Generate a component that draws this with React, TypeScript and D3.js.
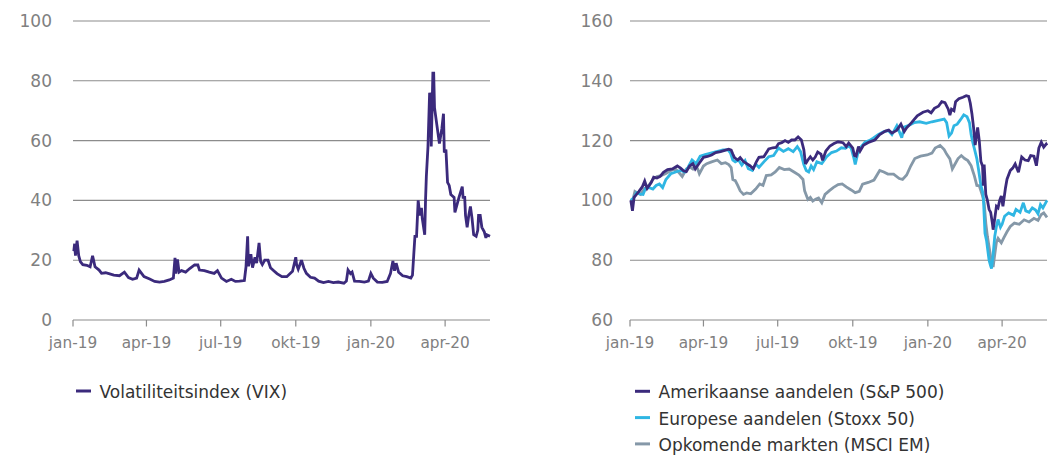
import React from "react";
import * as d3 from "d3";

// VIX (volatility index), daily-ish closes
const vixDates = [
  "2019-01-02","2019-01-03","2019-01-04","2019-01-06","2019-01-08","2019-01-10","2019-01-13","2019-01-18","2019-01-22","2019-01-25",
  "2019-01-28","2019-02-02","2019-02-05","2019-02-10","2019-02-15","2019-02-20","2019-02-27","2019-03-05","2019-03-10","2019-03-15",
  "2019-03-20","2019-03-23","2019-03-29","2019-04-05","2019-04-11","2019-04-17","2019-04-23","2019-04-29","2019-05-04","2019-05-06",
  "2019-05-07","2019-05-09","2019-05-11","2019-05-14","2019-05-19","2019-05-24","2019-05-30","2019-06-03","2019-06-05","2019-06-11",
  "2019-06-17","2019-06-23","2019-06-27","2019-07-02","2019-07-08","2019-07-14","2019-07-19","2019-07-24","2019-07-30","2019-08-01",
  "2019-08-03","2019-08-04","2019-08-07","2019-08-09","2019-08-12","2019-08-14","2019-08-17","2019-08-19","2019-08-21","2019-08-24",
  "2019-08-28","2019-08-31","2019-09-04","2019-09-08","2019-09-14","2019-09-20","2019-09-27","2019-10-01","2019-10-02","2019-10-04",
  "2019-10-08","2019-10-11","2019-10-14","2019-10-19","2019-10-24","2019-10-29","2019-11-04","2019-11-10","2019-11-16","2019-11-22",
  "2019-11-29","2019-12-02","2019-12-04","2019-12-07","2019-12-09","2019-12-12","2019-12-18","2019-12-24","2019-12-29","2020-01-01",
  "2020-01-04","2020-01-09","2020-01-15","2020-01-21","2020-01-25","2020-01-28","2020-01-30","2020-02-01","2020-02-04","2020-02-09",
  "2020-02-14","2020-02-19","2020-02-21","2020-02-24","2020-02-26","2020-02-28","2020-03-01","2020-03-03","2020-03-04","2020-03-07",
  "2020-03-08","2020-03-09","2020-03-11","2020-03-13","2020-03-14","2020-03-15","2020-03-17","2020-03-18","2020-03-19","2020-03-22",
  "2020-03-25","2020-03-28","2020-03-30","2020-03-31","2020-04-02","2020-04-04","2020-04-06","2020-04-08","2020-04-10","2020-04-12",
  "2020-04-13","2020-04-16","2020-04-18","2020-04-22","2020-04-23","2020-04-25","2020-04-26","2020-04-28","2020-04-30","2020-05-02",
  "2020-05-04","2020-05-06","2020-05-09","2020-05-11","2020-05-12","2020-05-14","2020-05-16","2020-05-19","2020-05-21","2020-05-22",
  "2020-05-26",
];
const vixValues = [
  23, 25.5, 21.5, 26.5, 21.5, 19.5, 18.5, 18.3, 17.8, 21.5,
  17.8, 16.7, 15.6, 15.8, 15.4, 15, 14.8, 16, 14.2, 13.6,
  14, 16.7, 14.5, 13.7, 12.9, 12.7, 12.9, 13.4, 14, 20.8,
  15.5, 20.3, 16, 16.5, 16, 17.2, 18.4, 18.4, 16.7, 16.5,
  16, 15.6, 16.5, 14, 12.9, 13.6, 12.9, 13, 13.2, 17.8,
  28, 18, 22, 17.5, 21, 19, 25.8, 19.5, 18.5, 20,
  20, 17.5, 16.5, 15.5, 14.5, 14.5, 16.3, 21, 18.5, 17,
  20, 17.3, 15.6, 14.3, 14, 13, 12.5, 12.9, 12.5, 12.7,
  12.3, 13, 16.7, 15.5, 16, 13, 12.9, 12.7, 13, 15.6,
  14, 12.7, 12.6, 12.9, 15.5, 19.7, 16.5, 19, 16, 14.8,
  14.5, 14, 15, 28, 28, 40, 35, 37.5, 34, 28.5,
  40, 48, 58, 76, 75, 58, 82.6, 82.6, 71, 65,
  59, 64, 69, 56, 57, 46, 45, 42, 41.5, 41,
  36, 39, 41, 44.6, 41, 41, 35, 31, 35, 38,
  34, 28.5, 28, 30, 35, 35, 31, 29.5, 27.5, 28.5,
  28,
];

// S&P 500, indexed (2 Jan 2019 = 100)
const spDates = [
  "2019-01-02","2019-01-04","2019-01-06","2019-01-09","2019-01-12","2019-01-16","2019-01-19","2019-01-22","2019-01-27","2019-01-30",
  "2019-02-03","2019-02-07","2019-02-11","2019-02-16","2019-02-22","2019-02-28","2019-03-04","2019-03-08","2019-03-11","2019-03-15",
  "2019-03-19","2019-03-22","2019-03-27","2019-04-01","2019-04-06","2019-04-11","2019-04-16","2019-04-22","2019-04-28","2019-05-02",
  "2019-05-05","2019-05-07","2019-05-09","2019-05-13","2019-05-16","2019-05-20","2019-05-24","2019-05-28","2019-06-01","2019-06-05",
  "2019-06-08","2019-06-14","2019-06-20","2019-06-25","2019-06-29","2019-07-02","2019-07-06","2019-07-10","2019-07-14","2019-07-18",
  "2019-07-22","2019-07-26","2019-07-30","2019-08-02","2019-08-04","2019-08-07","2019-08-10","2019-08-13","2019-08-16","2019-08-19",
  "2019-08-23","2019-08-25","2019-08-29","2019-09-03","2019-09-08","2019-09-13","2019-09-19","2019-09-23","2019-09-26","2019-10-01",
  "2019-10-03","2019-10-05","2019-10-08","2019-10-10","2019-10-14","2019-10-21","2019-10-28","2019-11-03","2019-11-10","2019-11-14",
  "2019-11-18","2019-11-24","2019-11-29","2019-12-03","2019-12-06","2019-12-12","2019-12-19","2019-12-26","2020-01-01","2020-01-05",
  "2020-01-09","2020-01-14","2020-01-18","2020-01-22","2020-01-26","2020-01-28","2020-01-30","2020-02-02","2020-02-04","2020-02-08",
  "2020-02-13","2020-02-17","2020-02-20","2020-02-22","2020-02-24","2020-02-26","2020-02-28","2020-03-02","2020-03-04","2020-03-06",
  "2020-03-08","2020-03-09","2020-03-10","2020-03-12","2020-03-14","2020-03-16","2020-03-18","2020-03-20","2020-03-21","2020-03-23",
  "2020-03-25","2020-03-27","2020-03-29","2020-03-31","2020-04-02","2020-04-05","2020-04-07","2020-04-11","2020-04-14","2020-04-17",
  "2020-04-21","2020-04-25","2020-04-29","2020-05-03","2020-05-06","2020-05-10","2020-05-13","2020-05-16","2020-05-19","2020-05-22",
  "2020-05-25","2020-05-26",
];
const spValues = [
  100, 96.5, 101, 102, 103, 104.5, 106.5, 104, 106, 107.8,
  107.5, 108, 109.4, 110.3, 110.5, 111.5, 110.8, 109.8, 109.6, 111.5,
  112.3, 110.5, 112.5, 114.4, 114.7, 115.2, 116, 116.3, 116.8, 117.1,
  116.8, 115.5, 114.3, 113.5, 114.3, 113, 112.3, 111.6, 110.6, 113,
  114.4, 114.6, 117.2, 117.6, 117.7, 119, 119.3, 120, 119.4, 120.2,
  120.2, 121.2, 120.2, 117, 112.2, 113.5, 114.6, 113.5, 114.5, 116.2,
  115.5, 113.4, 116.5, 118.2, 119, 119.6, 119.3, 118, 119.2, 117.5,
  115, 114.8, 118, 116.5, 118.4, 119.5, 120.2, 122, 123.2, 123.5,
  122.5, 123.5, 125.5, 123, 124.3, 126, 128.3, 129.5, 130, 129.3,
  130.8, 131.5, 133, 132.7, 130.5, 128.5, 130.5, 130, 133, 134,
  134.5, 135, 134.8, 132.5, 129, 124.4, 118.5, 124.4, 120, 113,
  111.5, 104.9, 112, 102, 100, 97, 96, 92.5, 90.2, 94,
  98, 97.5, 100, 101.5, 98, 104, 107.1, 110, 110.8, 112.2,
  109.4, 114.5, 113.5, 113.3, 115, 114.8, 111.6, 117.5, 119.5, 117.8,
  118.8, 118.4,
];

// Stoxx 50, indexed (2 Jan 2019 = 100)
const stoxxDates = [
  "2019-01-02","2019-01-06","2019-01-09","2019-01-13","2019-01-17","2019-01-20","2019-01-24","2019-01-29","2019-02-02","2019-02-06",
  "2019-02-10","2019-02-14","2019-02-20","2019-02-26","2019-03-04","2019-03-09","2019-03-13","2019-03-18","2019-03-23","2019-03-28",
  "2019-04-03","2019-04-10","2019-04-17","2019-04-25","2019-05-01","2019-05-04","2019-05-07","2019-05-10","2019-05-14","2019-05-18",
  "2019-05-22","2019-05-26","2019-05-31","2019-06-04","2019-06-08","2019-06-14","2019-06-20","2019-06-26","2019-07-02","2019-07-08",
  "2019-07-14","2019-07-20","2019-07-25","2019-07-29","2019-08-02","2019-08-05","2019-08-08","2019-08-11","2019-08-14","2019-08-18",
  "2019-08-24","2019-08-30","2019-09-05","2019-09-11","2019-09-17","2019-09-22","2019-09-26","2019-09-29","2019-10-02","2019-10-04",
  "2019-10-07","2019-10-10","2019-10-16","2019-10-21","2019-10-26","2019-11-01","2019-11-08","2019-11-14","2019-11-18","2019-11-24",
  "2019-11-30","2019-12-03","2019-12-08","2019-12-15","2019-12-22","2019-12-30","2020-01-06","2020-01-14","2020-01-21","2020-01-24",
  "2020-01-27","2020-01-30","2020-02-02","2020-02-06","2020-02-10","2020-02-14","2020-02-18","2020-02-21","2020-02-23","2020-02-25",
  "2020-02-27","2020-03-01","2020-03-03","2020-03-06","2020-03-08","2020-03-09","2020-03-11","2020-03-13","2020-03-16","2020-03-18",
  "2020-03-19","2020-03-21","2020-03-23","2020-03-25","2020-03-27","2020-03-30","2020-04-01","2020-04-04","2020-04-09","2020-04-15",
  "2020-04-18","2020-04-23","2020-04-27","2020-04-30","2020-05-04","2020-05-08","2020-05-12","2020-05-15","2020-05-18","2020-05-21",
  "2020-05-26",
];
const stoxxValues = [
  100, 101, 102.6, 102.2, 102, 104, 104.3, 103.8, 105, 105.5,
  104.3, 107, 108.9, 109.5, 110, 109.5, 111, 113.5, 112.3, 114.8,
  115.3, 115.8, 116.3, 116.9, 116.9, 115.9, 113.5, 112.9, 113.5, 111.8,
  113.3, 110.6, 110, 112.2, 111, 112.9, 114.6, 115, 117.5, 116.4,
  117.3, 116.3, 118, 116.3, 112, 110, 109.5, 111.5, 110.3, 112.9,
  112.3, 114.6, 116, 116.5, 117.6, 117.4, 118.2, 117.5, 114.5, 112,
  115.5, 117.5, 119.5, 120, 120.8, 122, 123, 123.3, 122, 125,
  121, 124.5, 125, 126, 126.3, 125.8, 126.3, 126.8, 127.2, 126,
  121.5, 122.5, 125, 125.5, 127, 128.6, 128, 126, 122, 119.5,
  117.3, 114, 110.5, 105, 103, 101, 89, 86.4, 80, 78,
  77.2, 82, 88, 91.3, 93.6, 91, 92, 94.7, 95.8, 95,
  97, 96, 99.2, 96.5, 96, 97.5, 96.8, 95.5, 98.6, 97.5,
  100,
];

// MSCI Emerging Markets, indexed (2 Jan 2019 = 100)
const emDates = [
  "2019-01-02","2019-01-04","2019-01-07","2019-01-10","2019-01-14","2019-01-19","2019-01-24","2019-01-29","2019-02-03","2019-02-08",
  "2019-02-14","2019-02-20","2019-02-26","2019-03-03","2019-03-06","2019-03-11","2019-03-15","2019-03-19","2019-03-22","2019-03-25",
  "2019-03-27","2019-04-01","2019-04-05","2019-04-11","2019-04-18","2019-04-23","2019-04-28","2019-05-02","2019-05-05","2019-05-07",
  "2019-05-10","2019-05-13","2019-05-16","2019-05-20","2019-05-24","2019-05-29","2019-06-04","2019-06-09","2019-06-13","2019-06-17",
  "2019-06-23","2019-06-28","2019-07-03","2019-07-09","2019-07-15","2019-07-21","2019-07-27","2019-08-01","2019-08-03","2019-08-07",
  "2019-08-10","2019-08-13","2019-08-17","2019-08-20","2019-08-24","2019-08-28","2019-09-02","2019-09-07","2019-09-13","2019-09-18",
  "2019-09-23","2019-09-29","2019-10-04","2019-10-09","2019-10-13","2019-10-20","2019-10-27","2019-11-03","2019-11-08","2019-11-13",
  "2019-11-20","2019-11-27","2019-12-01","2019-12-06","2019-12-11","2019-12-16","2019-12-23","2019-12-31","2020-01-06","2020-01-10",
  "2020-01-16","2020-01-21","2020-01-24","2020-01-28","2020-01-31","2020-02-03","2020-02-07","2020-02-11","2020-02-15","2020-02-19",
  "2020-02-23","2020-02-27","2020-03-01","2020-03-04","2020-03-08","2020-03-10","2020-03-12","2020-03-14","2020-03-16","2020-03-18",
  "2020-03-20","2020-03-21","2020-03-23","2020-03-25","2020-03-27","2020-03-31","2020-04-03","2020-04-07","2020-04-11","2020-04-16",
  "2020-04-22","2020-04-28","2020-05-04","2020-05-10","2020-05-15","2020-05-19","2020-05-22","2020-05-26",
];
const emValues = [
  100, 99.5, 103, 102.5, 102, 104, 105, 107, 108, 108.3,
  109, 110, 110.5, 109, 108, 110.5, 111.2, 110.5, 111.8, 110.5,
  108.9, 111.5, 112.3, 112.9, 113.5, 112.3, 112.6, 112, 111, 107,
  106.6, 105, 103.2, 102, 102.5, 102.2, 103.8, 105.5, 105, 108.3,
  108.5, 109.5, 111, 110.3, 110.5, 109.5, 108.5, 107, 103.2, 100.3,
  101, 99.8, 100.5, 100.8, 99.2, 102, 103.2, 104.3, 105.3, 105.5,
  104.5, 103.5, 102.6, 103, 105.4, 106, 106.8, 110, 109.5, 108.8,
  108.8, 107.3, 107, 108.5, 111.5, 114, 114.8, 115.2, 115.8, 117.5,
  118.4, 117, 115.5, 113.9, 110.5, 112, 114, 115, 114, 113.3,
  111.6, 108.2, 105, 104.9, 101.5, 99.2, 92.4, 87.9, 84.5, 81.1,
  79, 77.7, 82, 86, 87.3, 85.8, 87.5, 89.5, 91.3, 92.4,
  92, 93.5, 92.8, 94, 93.3, 95.3, 95.8, 94.3,
];

const xTickDates = ["2019-01-01", "2019-04-01", "2019-07-01", "2019-10-01", "2020-01-01", "2020-04-01"];
const xTickLabels = ["jan-19", "apr-19", "jul-19", "okt-19", "jan-20", "apr-20"];
const vixTicks = [0, 20, 40, 60, 80, 100];
const equityTicks = [60, 80, 100, 120, 140, 160];

const vixLegend = ["Volatiliteitsindex (VIX)"];
const equityLegend = [
  "Amerikaanse aandelen (S&P 500)",
  "Europese aandelen (Stoxx 50)",
  "Opkomende markten (MSCI EM)",
];

const PURPLE = "#3b2a7c";
const CYAN = "#2fb6e3";
const GREY = "#8598a8";
const GRID = "#8c8c8c";
const TICK_TEXT = "#808080";
const LEGEND_TEXT = "#333333";
const FONT = "'DejaVu Sans', 'Open Sans', sans-serif";

const parse = d3.timeParse("%Y-%m-%d");

type Series = { dates: string[]; values: number[]; color: string };

function Panel({
  left,
  labelGap,
  ticks,
  domain,
  series,
}: {
  left: number;
  labelGap: number;
  ticks: number[];
  domain: [number, number];
  series: Series[];
}) {
  const width = 417;
  const top = 21;
  const bottom = 320;
  const x = d3
    .scaleTime()
    .domain([parse("2019-01-01")!, parse("2020-05-26")!])
    .range([left, left + width]);
  const y = d3.scaleLinear().domain(domain).range([bottom, top]);

  return (
    <g>
      {ticks.map((t) => (
        <g key={t}>
          <line x1={left} x2={left + width} y1={y(t)} y2={y(t)} stroke={GRID} strokeWidth={1.1} />
          <text
            x={left - labelGap}
            y={y(t) + 6}
            textAnchor="end"
            fill={TICK_TEXT}
            fontSize={17}
            fontFamily={FONT}
          >
            {t}
          </text>
        </g>
      ))}
      {xTickDates.map((d, i) => {
        const px = x(parse(d)!);
        return (
          <g key={d}>
            <line x1={px} x2={px} y1={bottom} y2={bottom + 6.5} stroke={GRID} strokeWidth={1.2} />
            <text
              x={px}
              y={bottom + 28}
              textAnchor="middle"
              fill={TICK_TEXT}
              fontSize={15.3}
              fontFamily={FONT}
            >
              {xTickLabels[i]}
            </text>
          </g>
        );
      })}
      {series.map((s, si) => {
        const pts = s.dates.map((d, i) => [parse(d)!, s.values[i]] as [Date, number]);
        const line = d3
          .line<[Date, number]>()
          .x((p) => x(p[0]))
          .y((p) => y(p[1]));
        return (
          <path
            key={si}
            d={line(pts) || ""}
            fill="none"
            stroke={s.color}
            strokeWidth={2.8}
            strokeLinejoin="miter"
            strokeMiterlimit={3}
          />
        );
      })}
    </g>
  );
}

function Legend({ x, y, labels, colors }: { x: number; y: number; labels: string[]; colors: string[] }) {
  return (
    <g>
      {labels.map((l, i) => (
        <g key={l} transform={`translate(${x},${y + i * 26.3})`}>
          <line x1={0} x2={15} y1={0} y2={0} stroke={colors[i]} strokeWidth={3} />
          <text x={23.5} y={7} fill={LEGEND_TEXT} fontSize={17} fontFamily={FONT}>
            {l}
          </text>
        </g>
      ))}
    </g>
  );
}

export default function App() {
  return (
    <svg
      width={1052}
      height={456}
      style={{ position: "absolute", left: 0, top: 0, background: "#fff" }}
    >
      <Panel
        left={73}
        labelGap={21}
        ticks={vixTicks}
        domain={[0, 100]}
        series={[{ dates: vixDates, values: vixValues, color: PURPLE }]}
      />
      <Panel
        left={630}
        labelGap={17}
        ticks={equityTicks}
        domain={[60, 160]}
        series={[
          { dates: emDates, values: emValues, color: GREY },
          { dates: stoxxDates, values: stoxxValues, color: CYAN },
          { dates: spDates, values: spValues, color: PURPLE },
        ]}
      />
      <Legend x={76} y={391} labels={vixLegend} colors={[PURPLE]} />
      <Legend x={635} y={391.3} labels={equityLegend} colors={[PURPLE, CYAN, GREY]} />
    </svg>
  );
}
